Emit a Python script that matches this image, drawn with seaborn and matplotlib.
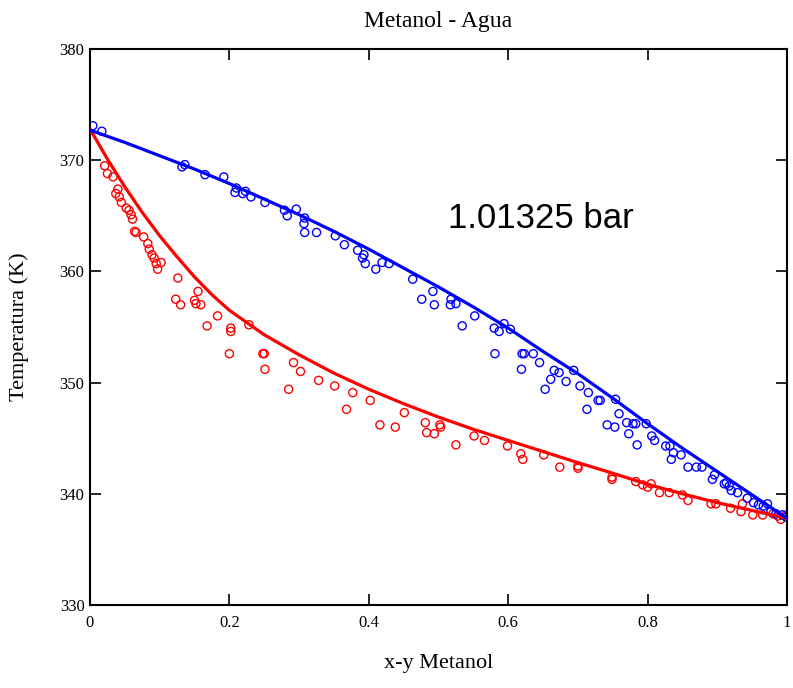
import matplotlib
matplotlib.use("Agg")
import matplotlib.pyplot as plt
import seaborn as sns
import pandas as pd

# ---- data ----
# liquid (bubble) line: x methanol vs T (K)
liq_x = [0, 0.025, 0.05, 0.075, 0.1, 0.125, 0.15, 0.175, 0.2, 0.25, 0.3, 0.35,
         0.4, 0.45, 0.5, 0.55, 0.6, 0.65, 0.7, 0.75, 0.8, 0.85, 0.9, 0.95, 1.0]
liq_T = [372.8, 370.1, 367.6, 365.3, 363.2, 361.3, 359.5, 357.9, 356.5, 354.3,
         352.5, 350.85, 349.4, 348.1, 346.9, 345.8, 344.8, 343.8, 342.8, 341.85,
         340.85, 340.0, 339.2, 338.5, 337.8]
# vapour (dew) line: y methanol vs T (K)
vap_x = [0, 0.05, 0.1, 0.15, 0.2, 0.25, 0.3, 0.35, 0.4, 0.45, 0.5, 0.55, 0.6,
         0.65, 0.7, 0.75, 0.8, 0.85, 0.9, 0.95, 1.0]
vap_T = [372.7, 371.6, 370.4, 369.2, 367.9, 366.5, 365.1, 363.6, 362.0, 360.3,
         358.6, 356.8, 354.9, 352.8, 350.8, 348.6, 346.3, 344.1, 342.0, 339.9, 337.8]

# experimental liquid points
exp_x = [0.021, 0.025, 0.033, 0.040, 0.037, 0.042, 0.045, 0.052, 0.056, 0.059,
         0.061, 0.064, 0.066, 0.077, 0.083, 0.085, 0.089, 0.092, 0.095, 0.102,
         0.097, 0.126, 0.123, 0.130, 0.155, 0.150, 0.152, 0.159, 0.183, 0.168,
         0.202, 0.202, 0.228, 0.200, 0.248, 0.250, 0.251, 0.292, 0.302, 0.285,
         0.328, 0.351, 0.377, 0.402, 0.368, 0.451, 0.416, 0.438, 0.481, 0.483,
         0.494, 0.502, 0.503, 0.525, 0.551, 0.566, 0.599, 0.618, 0.621, 0.651,
         0.674, 0.700, 0.700, 0.749, 0.749, 0.783, 0.793, 0.800, 0.805, 0.817,
         0.831, 0.850, 0.858, 0.891, 0.898, 0.919, 0.934, 0.936, 0.951, 0.965,
         0.980, 0.987, 0.991, 0.999]
exp_Tx = [369.5, 368.8, 368.5, 367.4, 367.0, 366.7, 366.2, 365.7, 365.5, 365.1,
          364.7, 363.6, 363.5, 363.1, 362.5, 362.0, 361.5, 361.2, 360.7, 360.8,
          360.2, 359.4, 357.5, 357.0, 358.2, 357.4, 357.1, 357.0, 356.0, 355.1,
          354.9, 354.6, 355.2, 352.6, 352.6, 352.6, 351.2, 351.8, 351.0, 349.4,
          350.2, 349.7, 349.1, 348.4, 347.6, 347.3, 346.2, 346.0, 346.4, 345.5,
          345.4, 346.2, 346.0, 344.4, 345.2, 344.8, 344.3, 343.6, 343.1, 343.5,
          342.4, 342.5, 342.3, 341.5, 341.3, 341.1, 340.8, 340.6, 340.9, 340.1,
          340.1, 339.9, 339.4, 339.1, 339.1, 338.7, 338.4, 339.1, 338.1, 338.1,
          338.2, 338.0, 337.7, 338.1]
# experimental vapour points
exp_y = [0.004, 0.017, 0.132, 0.136, 0.165, 0.192, 0.208, 0.210, 0.219, 0.223,
         0.231, 0.251, 0.279, 0.283, 0.296, 0.308, 0.307, 0.308, 0.325, 0.352,
         0.365, 0.384, 0.393, 0.391, 0.395, 0.410, 0.419, 0.429, 0.463, 0.476,
         0.492, 0.494, 0.517, 0.518, 0.525, 0.534, 0.552, 0.580, 0.587, 0.594,
         0.603, 0.581, 0.620, 0.623, 0.636, 0.645, 0.619, 0.666, 0.673, 0.683,
         0.694, 0.661, 0.653, 0.703, 0.715, 0.729, 0.732, 0.713, 0.754, 0.759,
         0.742, 0.753, 0.770, 0.773, 0.779, 0.783, 0.798, 0.806, 0.810, 0.785,
         0.826, 0.832, 0.837, 0.834, 0.848, 0.858, 0.870, 0.878, 0.896, 0.893,
         0.910, 0.913, 0.917, 0.920, 0.929, 0.943, 0.952, 0.959, 0.966, 0.972,
         0.977, 0.984, 0.993, 0.999]
exp_Ty = [373.1, 372.6, 369.4, 369.6, 368.7, 368.5, 367.1, 367.5, 367.0, 367.2,
          366.7, 366.2, 365.5, 365.0, 365.6, 364.8, 364.3, 363.5, 363.5, 363.2,
          362.4, 361.9, 361.5, 361.2, 360.7, 360.2, 360.8, 360.7, 359.3, 357.5,
          358.2, 357.0, 357.0, 357.5, 357.1, 355.1, 356.0, 354.9, 354.6, 355.3,
          354.8, 352.6, 352.6, 352.6, 352.6, 351.8, 351.2, 351.1, 350.9, 350.1,
          351.1, 350.3, 349.4, 349.7, 349.1, 348.4, 348.4, 347.6, 348.5, 347.2,
          346.2, 346.0, 346.4, 345.4, 346.3, 346.3, 346.3, 345.2, 344.8, 344.4,
          344.3, 344.3, 343.7, 343.1, 343.5, 342.4, 342.4, 342.4, 341.7, 341.3,
          340.9, 341.0, 340.7, 340.3, 340.1, 339.6, 339.2, 339.0, 338.9, 339.1,
          338.4, 338.2, 338.1, 337.9]

x_ticks = [0, 0.2, 0.4, 0.6, 0.8, 1]
x_tick_labels = ["0", "0.2", "0.4", "0.6", "0.8", "1"]
y_ticks = [330, 340, 350, 360, 370, 380]
y_tick_labels = ["330", "340", "350", "360", "370", "380"]

title = "Metanol - Agua"
xlabel = "x-y Metanol"
ylabel = "Temperatura (K)"
note = "1.01325 bar"

# ---- plotting ----
sns.set_style("ticks")
plt.rcParams["font.family"] = ["Liberation Serif", "DejaVu Serif"]
plt.rcParams["text.color"] = "black"
plt.rcParams["axes.labelcolor"] = "black"

fig = plt.figure(figsize=(7.93, 6.88), dpi=100)
ax = fig.add_axes([90 / 793, 83 / 688, 697 / 793, 556 / 688])

df_liq = pd.DataFrame({"x": liq_x, "T": liq_T})
df_vap = pd.DataFrame({"x": vap_x, "T": vap_T})
df_ex = pd.DataFrame({"x": exp_x, "T": exp_Tx})
df_ey = pd.DataFrame({"x": exp_y, "T": exp_Ty})

sns.scatterplot(data=df_ex, x="x", y="T", ax=ax, marker="o", s=34,
                facecolor="none", edgecolor="#ff0000", linewidth=1.0, zorder=2)
sns.scatterplot(data=df_ey, x="x", y="T", ax=ax, marker="o", s=34,
                facecolor="none", edgecolor="#0000ff", linewidth=1.0, zorder=2)
sns.lineplot(data=df_liq, x="x", y="T", ax=ax, color="#ff0000", linewidth=2.3,
             sort=False, estimator=None, zorder=3)
sns.lineplot(data=df_vap, x="x", y="T", ax=ax, color="#0000ff", linewidth=2.3,
             sort=False, estimator=None, zorder=3)

ax.set_xlim(0, 1)
ax.set_ylim(330, 380)
ax.set_xticks(x_ticks)
ax.set_xticklabels(x_tick_labels)
ax.set_yticks(y_ticks)
ax.set_yticklabels(y_tick_labels)
ax.tick_params(direction="in", length=8, width=1.2, top=True, right=True,
               labelsize=12, colors="black")
ax.tick_params(axis="x", pad=7)
ax.tick_params(axis="y", pad=4)
for sp in ax.spines.values():
    sp.set_visible(True)
    sp.set_linewidth(1.5)
    sp.set_color("black")

ax.set_xlabel(xlabel, fontsize=16, color="black")
ax.set_ylabel(ylabel, fontsize=16, color="black")
ax.xaxis.set_label_coords(0.5, -0.088)
ax.yaxis.set_label_coords(-0.088, 0.5)

fig.text(0.5 * (90 + 787) / 793, 1 - 21 / 688, title, ha="center", va="center",
         fontsize=17, color="black")

ax.text(0.647, 364.8, note, ha="center", va="center", fontsize=25,
        color="black", family=["Liberation Sans", "DejaVu Sans"])

fig.savefig("out.png", dpi=100)
